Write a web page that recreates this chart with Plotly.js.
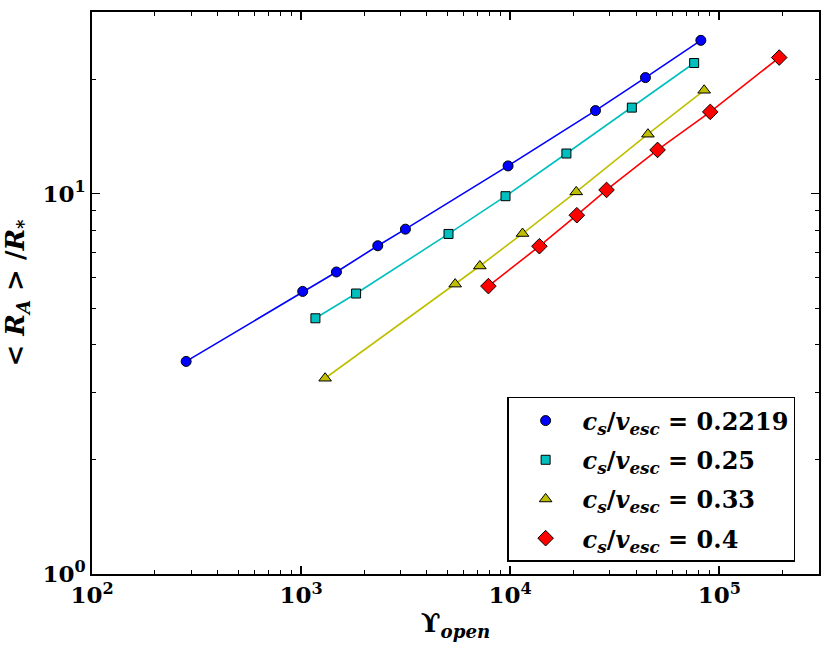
<!DOCTYPE html>
<html><head><meta charset="utf-8">
<script src="https://cdn.plot.ly/plotly-3.0.1.min.js"></script>
<style>body{margin:0;background:#fff}#plot{width:831px;height:650px}</style>
</head><body><div id="plot"></div>
<script>
// Series data (x = Upsilon_open, y = <R_A>/R_*)
const blueX = [282, 1018, 1476, 2327, 3155, 9773, 25590, 44360, 81660];
const blueY = [3.62, 5.53, 6.22, 7.29, 8.06, 11.82, 16.52, 20.17, 25.27];
const cyanX = [1171, 1833, 5071, 9500, 18580, 38190, 75860];
const cyanY = [4.70, 5.46, 7.83, 9.84, 12.74, 16.82, 22.03];
const yellowX = [1303, 5458, 7161, 11460, 20700, 45600, 84700];
const yellowY = [3.27, 5.78, 6.45, 7.85, 10.1, 14.32, 18.68];
const redX = [7870, 13800, 20840, 28910, 50700, 90600, 193600];
const redY = [5.71, 7.27, 8.77, 10.22, 13.02, 16.39, 22.77];
const seriesNames = ['0.2219', '0.25', '0.33', '0.4'];
const xTickVals = [100, 1000, 10000, 100000];
const xTickText = ['10<sup>2</sup>', '10<sup>3</sup>', '10<sup>4</sup>', '10<sup>5</sup>'];
const yTickVals = [1, 10];
const yTickText = ['10<sup>0</sup>', '10<sup>1</sup>'];

const series = [
  {x: blueX, y: blueY, color: '#0000ff', symbol: 'circle', size: 10},
  {x: cyanX, y: cyanY, color: '#00bfbf', symbol: 'square', size: 9},
  {x: yellowX, y: yellowY, color: '#bfbf00', symbol: 'triangle-up', size: 11},
  {x: redX, y: redY, color: '#ff0000', symbol: 'diamond', size: 12}
];

const traces = [];
series.forEach((s, i) => {
  traces.push({x: s.x, y: s.y, mode: 'lines', type: 'scatter', showlegend: false,
    line: {color: s.color, width: 1.6}, hoverinfo: 'skip'});
  traces.push({x: s.x, y: s.y, mode: 'markers', type: 'scatter', legendgroup: 'g' + i,
    name: '<b><i>c</i><sub><i>s</i></sub>/<i>v</i><sub><i>esc</i></sub> = ' + seriesNames[i] + '</b>',
    marker: {color: s.color, symbol: s.symbol, size: s.size, line: {color: '#000', width: 1}}});
});

function minorVals(lo, hi) {
  const v = [];
  for (let d = lo; d < hi; d *= 10) for (let k = 2; k <= 9; k++) v.push(d * k);
  return v;
}

const font = {family: 'DejaVu Serif, serif', color: '#000'};
const layout = {
  width: 831, height: 650,
  margin: {l: 92, r: 12, t: 12, b: 76},
  paper_bgcolor: '#fff', plot_bgcolor: '#fff',
  font: font,
  xaxis: {
    type: 'log', range: [2, Math.log10(3e5)],
    tickmode: 'array', tickvals: xTickVals, ticktext: xTickText,
    ticks: 'inside', ticklen: 8, tickwidth: 1.5, tickcolor: '#000',
    minor: {tickvals: minorVals(100, 1e6), ticks: 'inside', ticklen: 4, tickwidth: 1, tickcolor: '#000', showgrid: false},
    mirror: 'allticks', showline: true, linecolor: '#000', linewidth: 1.8,
    showgrid: false, zeroline: false,
    tickfont: {family: 'DejaVu Serif, serif', size: 23, color: '#000', weight: 'bold'},
    title: {text: '<b>ϒ<sub><i>open</i></sub></b>', font: {family: 'DejaVu Serif, serif', size: 26, color: '#000'}, standoff: 4}
  },
  yaxis: {
    type: 'log', range: [0, Math.log10(30)],
    tickmode: 'array', tickvals: yTickVals, ticktext: yTickText,
    ticks: 'inside', ticklen: 8, tickwidth: 1.5, tickcolor: '#000',
    minor: {tickvals: minorVals(1, 100), ticks: 'inside', ticklen: 4, tickwidth: 1, tickcolor: '#000', showgrid: false},
    mirror: 'allticks', showline: true, linecolor: '#000', linewidth: 1.8,
    showgrid: false, zeroline: false,
    tickfont: {family: 'DejaVu Serif, serif', size: 23, color: '#000', weight: 'bold'},
    title: {text: '<b>&lt; <i>R</i><sub><i>A</i></sub> &gt; /<i>R</i><sub>*</sub></b>', font: {family: 'DejaVu Serif, serif', size: 26, color: '#000'}, standoff: 10}
  },
  legend: {
    x: 0.571, y: 0.315, xanchor: 'left', yanchor: 'top',
    bgcolor: '#fff', bordercolor: '#000', borderwidth: 1.5,
    font: {family: 'DejaVu Serif, serif', size: 24, color: '#000'},
    itemwidth: 64, tracegroupgap: 5
  },
  showlegend: true
};

Plotly.newPlot('plot', traces, layout, {displayModeBar: false, staticPlot: true});
</script></body></html>
